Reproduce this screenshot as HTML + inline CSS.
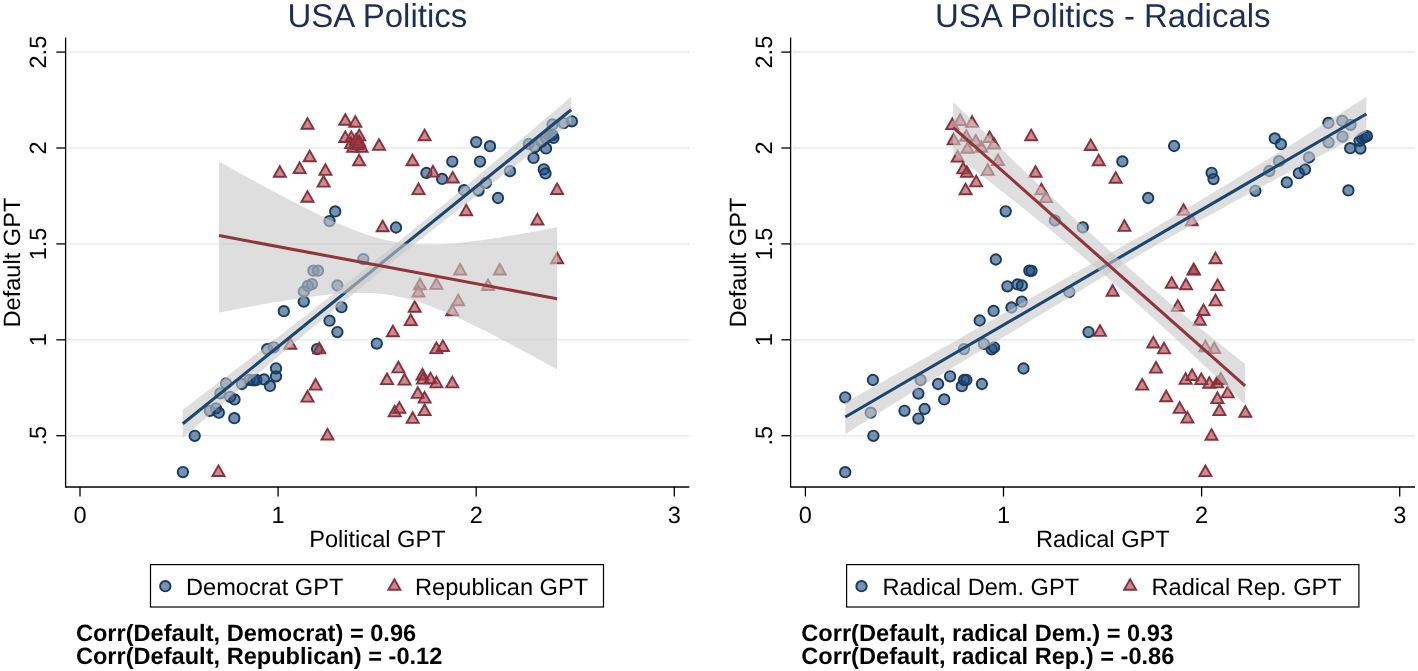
<!DOCTYPE html>
<html><head><meta charset="utf-8"><title>USA Politics</title>
<style>
html,body{margin:0;padding:0;background:#fff;}
body{width:1418px;height:671px;overflow:hidden;}
svg{display:block;position:absolute;left:0;top:0;will-change:transform;font-family:"Liberation Sans",sans-serif;}
text{text-rendering:geometricPrecision;}
</style></head><body>
<svg width="1418" height="671" viewBox="0 0 1418 671">
<rect width="1418" height="671" fill="#fff"/>
<line x1="68.1" y1="435.7" x2="689.3" y2="435.7" stroke="#e5edee" stroke-width="1.5"/>
<line x1="68.1" y1="339.8" x2="689.3" y2="339.8" stroke="#e5edee" stroke-width="1.5"/>
<line x1="68.1" y1="243.9" x2="689.3" y2="243.9" stroke="#e5edee" stroke-width="1.5"/>
<line x1="68.1" y1="148.0" x2="689.3" y2="148.0" stroke="#e5edee" stroke-width="1.5"/>
<line x1="68.1" y1="52.1" x2="689.3" y2="52.1" stroke="#e5edee" stroke-width="1.5"/>
<g fill="#1a4a7a" fill-opacity="0.6" stroke="#173a62" stroke-width="1.9"><circle cx="182.9" cy="472.1" r="5.2"/><circle cx="194.7" cy="435.8" r="5.2"/><circle cx="209.9" cy="410.8" r="5.2"/><circle cx="216.0" cy="408.4" r="5.2"/><circle cx="218.8" cy="412.7" r="5.2"/><circle cx="234.3" cy="418.2" r="5.2"/><circle cx="220.4" cy="393.3" r="5.2"/><circle cx="226.0" cy="383.5" r="5.2"/><circle cx="230.2" cy="397.0" r="5.2"/><circle cx="234.5" cy="399.4" r="5.2"/><circle cx="241.9" cy="384.0" r="5.2"/><circle cx="249.6" cy="379.8" r="5.2"/><circle cx="253.3" cy="380.3" r="5.2"/><circle cx="256.5" cy="380.0" r="5.2"/><circle cx="264.0" cy="379.4" r="5.2"/><circle cx="270.0" cy="385.9" r="5.2"/><circle cx="276.0" cy="376.3" r="5.2"/><circle cx="276.0" cy="368.3" r="5.2"/><circle cx="363.3" cy="259.1" r="5.2"/><circle cx="313.4" cy="270.7" r="5.2"/><circle cx="318.0" cy="270.7" r="5.2"/><circle cx="311.9" cy="284.1" r="5.2"/><circle cx="307.9" cy="285.9" r="5.2"/><circle cx="303.8" cy="291.5" r="5.2"/><circle cx="337.4" cy="285.5" r="5.2"/><circle cx="303.8" cy="301.6" r="5.2"/><circle cx="283.8" cy="311.2" r="5.2"/><circle cx="341.5" cy="307.2" r="5.2"/><circle cx="329.5" cy="320.7" r="5.2"/><circle cx="337.4" cy="332.1" r="5.2"/><circle cx="376.8" cy="343.6" r="5.2"/><circle cx="267.2" cy="349.1" r="5.2"/><circle cx="273.7" cy="347.3" r="5.2"/><circle cx="317.1" cy="349.1" r="5.2"/><circle cx="335.2" cy="211.4" r="5.2"/><circle cx="329.5" cy="221.1" r="5.2"/><circle cx="396.0" cy="227.5" r="5.2"/><circle cx="476.2" cy="142.1" r="5.2"/><circle cx="490.0" cy="146.2" r="5.2"/><circle cx="452.3" cy="161.6" r="5.2"/><circle cx="480.0" cy="161.6" r="5.2"/><circle cx="426.4" cy="173.0" r="5.2"/><circle cx="442.1" cy="178.9" r="5.2"/><circle cx="464.1" cy="190.2" r="5.2"/><circle cx="478.6" cy="190.6" r="5.2"/><circle cx="486.0" cy="182.8" r="5.2"/><circle cx="510.0" cy="171.2" r="5.2"/><circle cx="498.0" cy="198.0" r="5.2"/><circle cx="533.5" cy="157.9" r="5.2"/><circle cx="543.8" cy="169.3" r="5.2"/><circle cx="545.5" cy="173.4" r="5.2"/><circle cx="546.0" cy="148.4" r="5.2"/><circle cx="528.8" cy="144.0" r="5.2"/><circle cx="535.0" cy="147.1" r="5.2"/><circle cx="541.4" cy="141.6" r="5.2"/><circle cx="546.0" cy="137.9" r="5.2"/><circle cx="549.7" cy="136.0" r="5.2"/><circle cx="552.5" cy="135.1" r="5.2"/><circle cx="553.4" cy="137.9" r="5.2"/><circle cx="552.5" cy="124.4" r="5.2"/><circle cx="563.6" cy="123.1" r="5.2"/><circle cx="571.9" cy="121.3" r="5.2"/></g>
<g fill="#a93a46" fill-opacity="0.6" stroke="#88303a" stroke-width="1.9" stroke-linejoin="miter"><path d="M218.5 465.4L224.5 476.0L212.5 476.0Z"/><path d="M327.5 428.9L333.5 439.5L321.5 439.5Z"/><path d="M307.5 391.0L313.5 401.6L301.5 401.6Z"/><path d="M315.6 379.0L321.6 389.6L309.6 389.6Z"/><path d="M387.0 373.5L393.0 384.1L381.0 384.1Z"/><path d="M398.4 361.8L404.4 372.4L392.4 372.4Z"/><path d="M404.5 374.0L410.5 384.6L398.5 384.6Z"/><path d="M394.7 405.8L400.7 416.4L388.7 416.4Z"/><path d="M399.4 402.1L405.4 412.7L393.4 412.7Z"/><path d="M412.7 412.3L418.7 422.9L406.7 422.9Z"/><path d="M417.8 387.3L423.8 397.9L411.8 397.9Z"/><path d="M422.5 368.9L428.5 379.5L416.5 379.5Z"/><path d="M423.0 373.0L429.0 383.6L417.0 383.6Z"/><path d="M430.5 372.6L436.5 383.2L424.5 383.2Z"/><path d="M436.4 376.8L442.4 387.4L430.4 387.4Z"/><path d="M452.3 376.8L458.3 387.4L446.3 387.4Z"/><path d="M424.6 392.0L430.6 402.6L418.6 402.6Z"/><path d="M424.6 404.5L430.6 415.1L418.6 415.1Z"/><path d="M290.3 338.2L296.3 348.8L284.3 348.8Z"/><path d="M319.3 342.8L325.3 353.4L313.3 353.4Z"/><path d="M392.9 325.6L398.9 336.2L386.9 336.2Z"/><path d="M410.8 314.5L416.8 325.1L404.8 325.1Z"/><path d="M414.7 301.2L420.7 311.8L408.7 311.8Z"/><path d="M557.1 252.6L563.1 263.2L551.1 263.2Z"/><path d="M460.1 263.9L466.1 274.5L454.1 274.5Z"/><path d="M499.8 263.9L505.8 274.5L493.8 274.5Z"/><path d="M420.0 278.7L426.0 289.3L414.0 289.3Z"/><path d="M436.4 278.3L442.4 288.9L430.4 288.9Z"/><path d="M418.5 285.9L424.5 296.5L412.5 296.5Z"/><path d="M488.0 279.4L494.0 290.0L482.0 290.0Z"/><path d="M458.2 294.6L464.2 305.2L452.2 305.2Z"/><path d="M452.3 304.6L458.3 315.2L446.3 315.2Z"/><path d="M436.4 342.5L442.4 353.1L430.4 353.1Z"/><path d="M442.9 340.4L448.9 351.0L436.9 351.0Z"/><path d="M307.5 118.1L313.5 128.7L301.5 128.7Z"/><path d="M345.3 114.2L351.3 124.8L339.3 124.8Z"/><path d="M355.3 116.1L361.3 126.7L349.3 126.7Z"/><path d="M309.7 150.6L315.7 161.2L303.7 161.2Z"/><path d="M279.8 166.2L285.8 176.8L273.8 176.8Z"/><path d="M299.6 162.5L305.6 173.1L293.6 173.1Z"/><path d="M325.4 164.3L331.4 174.9L319.4 174.9Z"/><path d="M323.6 176.0L329.6 186.6L317.6 186.6Z"/><path d="M307.5 191.1L313.5 201.7L301.5 201.7Z"/><path d="M379.0 139.3L385.0 149.9L373.0 149.9Z"/><path d="M359.1 154.7L365.1 165.3L353.1 165.3Z"/><path d="M412.5 154.7L418.5 165.3L406.5 165.3Z"/><path d="M418.5 183.5L424.5 194.1L412.5 194.1Z"/><path d="M382.7 220.7L388.7 231.3L376.7 231.3Z"/><path d="M345.3 131.4L351.3 142.0L339.3 142.0Z"/><path d="M351.3 131.4L357.3 142.0L345.3 142.0Z"/><path d="M359.3 129.6L365.3 140.2L353.3 140.2Z"/><path d="M351.1 137.5L357.1 148.1L345.1 148.1Z"/><path d="M353.1 141.1L359.1 151.7L347.1 151.7Z"/><path d="M361.6 141.1L367.6 151.7L355.6 151.7Z"/><path d="M359.3 135.7L365.3 146.3L353.3 146.3Z"/><path d="M357.5 138.4L363.5 149.0L351.5 149.0Z"/><path d="M356.0 134.0L362.0 144.6L350.0 144.6Z"/><path d="M358.5 137.0L364.5 147.6L352.5 147.6Z"/><path d="M424.6 129.7L430.6 140.3L418.6 140.3Z"/><path d="M432.9 166.0L438.9 176.6L426.9 176.6Z"/><path d="M452.7 171.9L458.7 182.5L446.7 182.5Z"/><path d="M466.2 204.6L472.2 215.2L460.2 215.2Z"/><path d="M557.1 183.4L563.1 194.0L551.1 194.0Z"/><path d="M537.4 213.9L543.4 224.5L531.4 224.5Z"/></g>
<path d="M182.8 409.8L192.5 402.4L202.2 395.0L211.9 387.6L221.6 380.2L231.4 372.8L241.1 365.4L250.8 357.9L260.5 350.4L270.2 343.0L279.9 335.5L289.6 328.0L299.3 320.4L309.0 312.9L318.7 305.3L328.5 297.7L338.2 290.0L347.9 282.3L357.6 274.6L367.3 266.9L377.0 259.1L386.7 251.2L396.4 243.4L406.1 235.5L415.8 227.5L425.6 219.5L435.3 211.5L445.0 203.5L454.7 195.4L464.4 187.3L474.1 179.1L483.8 171.0L493.5 162.8L503.2 154.6L512.9 146.3L522.7 138.1L532.4 129.9L542.1 121.6L551.8 113.3L561.5 105.0L571.2 96.7L571.2 122.9L561.5 130.3L551.8 137.7L542.1 145.1L532.4 152.5L522.7 160.0L512.9 167.5L503.2 174.9L493.5 182.4L483.8 189.9L474.1 197.5L464.4 205.0L454.7 212.6L445.0 220.2L435.3 227.9L425.6 235.6L415.8 243.3L406.1 251.0L396.4 258.8L386.7 266.7L377.0 274.5L367.3 282.4L357.6 290.4L347.9 298.4L338.2 306.4L328.5 314.4L318.7 322.5L309.0 330.6L299.3 338.8L289.6 346.9L279.9 355.1L270.2 363.3L260.5 371.6L250.8 379.8L241.1 388.0L231.4 396.3L221.6 404.6L211.9 412.9L202.2 421.2L192.5 429.5L182.8 437.8Z" fill="#c8c8c8" fill-opacity="0.6"/>
<line x1="182.8" y1="423.8" x2="571.2" y2="109.8" stroke="#1a476f" stroke-width="3.1"/>
<path d="M219.1 161.6L227.5 166.3L236.0 171.0L244.4 175.7L252.9 180.3L261.4 184.9L269.8 189.4L278.2 193.9L286.7 198.4L295.1 202.8L303.6 207.1L312.1 211.3L320.5 215.4L328.9 219.4L337.4 223.2L345.9 226.8L354.3 230.2L362.8 233.3L371.2 236.1L379.6 238.6L388.1 240.6L396.5 242.2L405.0 243.4L413.4 244.2L421.9 244.6L430.4 244.6L438.8 244.4L447.2 243.9L455.7 243.2L464.1 242.3L472.6 241.3L481.0 240.2L489.5 239.0L498.0 237.7L506.4 236.3L514.9 234.9L523.3 233.4L531.8 231.9L540.2 230.4L548.6 228.8L557.1 227.2L557.1 369.4L548.6 364.7L540.2 360.1L531.8 355.5L523.3 350.9L514.9 346.4L506.4 341.9L498.0 337.5L489.5 333.1L481.0 328.8L472.6 324.7L464.1 320.6L455.7 316.7L447.2 312.9L438.8 309.4L430.4 306.1L421.9 303.1L413.4 300.4L405.0 298.1L396.5 296.3L388.1 294.8L379.6 293.8L371.2 293.1L362.8 292.9L354.3 292.9L345.9 293.3L337.4 293.8L328.9 294.6L320.5 295.5L312.1 296.6L303.6 297.7L295.1 299.0L286.7 300.3L278.2 301.7L269.8 303.1L261.4 304.6L252.9 306.1L244.4 307.7L236.0 309.3L227.5 310.9L219.1 312.6Z" fill="#c8c8c8" fill-opacity="0.6"/>
<line x1="219.1" y1="235.6" x2="557.1" y2="298.8" stroke="#90353b" stroke-width="3.1"/>
<g stroke="#000" stroke-width="1.3" fill="none">
<path d="M65.6 37.5V487H689.3"/>
<line x1="56.3" y1="435.7" x2="65.6" y2="435.7"/>
<line x1="56.3" y1="339.8" x2="65.6" y2="339.8"/>
<line x1="56.3" y1="243.9" x2="65.6" y2="243.9"/>
<line x1="56.3" y1="148.0" x2="65.6" y2="148.0"/>
<line x1="56.3" y1="52.1" x2="65.6" y2="52.1"/>
<line x1="80.0" y1="487" x2="80.0" y2="496.5"/>
<line x1="278.1" y1="487" x2="278.1" y2="496.5"/>
<line x1="476.2" y1="487" x2="476.2" y2="496.5"/>
<line x1="674.3" y1="487" x2="674.3" y2="496.5"/>
</g>
<g font-size="23.6" fill="#000" text-anchor="middle">
<text transform="translate(46.3 435.7) rotate(-90)">.5</text>
<text transform="translate(46.3 339.8) rotate(-90)">1</text>
<text transform="translate(46.3 243.9) rotate(-90)">1.5</text>
<text transform="translate(46.3 148.0) rotate(-90)">2</text>
<text transform="translate(46.3 52.1) rotate(-90)">2.5</text>
<text x="80.0" y="523.4">0</text>
<text x="278.1" y="523.4">1</text>
<text x="476.2" y="523.4">2</text>
<text x="674.3" y="523.4">3</text>
<text transform="translate(20.1 262.6) rotate(-90)">Default GPT</text>
<text x="377.4" y="546.8">Political GPT</text>
</g>
<text x="377.4" y="27" font-size="33" fill="#1e2d53" text-anchor="middle">USA Politics</text>
<line x1="793.1" y1="435.7" x2="1415" y2="435.7" stroke="#e5edee" stroke-width="1.5"/>
<line x1="793.1" y1="339.8" x2="1415" y2="339.8" stroke="#e5edee" stroke-width="1.5"/>
<line x1="793.1" y1="243.9" x2="1415" y2="243.9" stroke="#e5edee" stroke-width="1.5"/>
<line x1="793.1" y1="148.0" x2="1415" y2="148.0" stroke="#e5edee" stroke-width="1.5"/>
<line x1="793.1" y1="52.1" x2="1415" y2="52.1" stroke="#e5edee" stroke-width="1.5"/>
<g fill="#1a4a7a" fill-opacity="0.6" stroke="#173a62" stroke-width="1.9"><circle cx="845.2" cy="472.2" r="5.2"/><circle cx="845.2" cy="397.3" r="5.2"/><circle cx="872.9" cy="380.0" r="5.2"/><circle cx="870.7" cy="412.7" r="5.2"/><circle cx="873.4" cy="435.8" r="5.2"/><circle cx="904.5" cy="410.8" r="5.2"/><circle cx="918.4" cy="393.6" r="5.2"/><circle cx="920.6" cy="380.0" r="5.2"/><circle cx="924.6" cy="409.0" r="5.2"/><circle cx="918.4" cy="418.6" r="5.2"/><circle cx="938.1" cy="384.0" r="5.2"/><circle cx="944.2" cy="399.4" r="5.2"/><circle cx="950.1" cy="376.3" r="5.2"/><circle cx="961.8" cy="386.2" r="5.2"/><circle cx="964.0" cy="380.0" r="5.2"/><circle cx="966.4" cy="380.0" r="5.2"/><circle cx="981.9" cy="384.0" r="5.2"/><circle cx="1023.5" cy="368.5" r="5.2"/><circle cx="995.8" cy="259.5" r="5.2"/><circle cx="1029.3" cy="270.6" r="5.2"/><circle cx="1031.5" cy="270.8" r="5.2"/><circle cx="1007.4" cy="286.3" r="5.2"/><circle cx="1017.6" cy="284.4" r="5.2"/><circle cx="1021.9" cy="285.5" r="5.2"/><circle cx="1021.7" cy="301.6" r="5.2"/><circle cx="1011.5" cy="307.5" r="5.2"/><circle cx="993.6" cy="310.9" r="5.2"/><circle cx="979.7" cy="320.5" r="5.2"/><circle cx="1069.3" cy="292.0" r="5.2"/><circle cx="1088.5" cy="332.1" r="5.2"/><circle cx="964.0" cy="349.1" r="5.2"/><circle cx="983.8" cy="343.8" r="5.2"/><circle cx="991.7" cy="349.3" r="5.2"/><circle cx="994.1" cy="347.5" r="5.2"/><circle cx="1122.4" cy="161.4" r="5.2"/><circle cx="1148.2" cy="198.0" r="5.2"/><circle cx="1005.7" cy="211.3" r="5.2"/><circle cx="1054.9" cy="220.5" r="5.2"/><circle cx="1082.8" cy="227.3" r="5.2"/><circle cx="1174.1" cy="146.0" r="5.2"/><circle cx="1211.6" cy="172.8" r="5.2"/><circle cx="1213.5" cy="179.1" r="5.2"/><circle cx="1274.8" cy="138.4" r="5.2"/><circle cx="1280.9" cy="144.2" r="5.2"/><circle cx="1255.4" cy="190.8" r="5.2"/><circle cx="1269.3" cy="171.0" r="5.2"/><circle cx="1279.1" cy="161.2" r="5.2"/><circle cx="1286.8" cy="182.4" r="5.2"/><circle cx="1298.9" cy="173.2" r="5.2"/><circle cx="1305.0" cy="169.5" r="5.2"/><circle cx="1309.0" cy="157.5" r="5.2"/><circle cx="1328.4" cy="122.9" r="5.2"/><circle cx="1342.3" cy="120.9" r="5.2"/><circle cx="1350.6" cy="124.8" r="5.2"/><circle cx="1328.6" cy="142.3" r="5.2"/><circle cx="1342.5" cy="136.6" r="5.2"/><circle cx="1350.2" cy="148.2" r="5.2"/><circle cx="1360.4" cy="148.6" r="5.2"/><circle cx="1359.5" cy="140.8" r="5.2"/><circle cx="1362.3" cy="138.4" r="5.2"/><circle cx="1364.7" cy="137.1" r="5.2"/><circle cx="1366.9" cy="136.2" r="5.2"/><circle cx="1348.4" cy="190.4" r="5.2"/></g>
<g fill="#a93a46" fill-opacity="0.6" stroke="#88303a" stroke-width="1.9" stroke-linejoin="miter"><path d="M1156.0 362.0L1162.0 372.6L1150.0 372.6Z"/><path d="M1142.2 379.0L1148.2 389.6L1136.2 389.6Z"/><path d="M1166.2 390.7L1172.2 401.3L1160.2 401.3Z"/><path d="M1179.7 402.3L1185.7 412.9L1173.7 412.9Z"/><path d="M1187.4 411.9L1193.4 422.5L1181.4 422.5Z"/><path d="M1185.6 373.3L1191.6 383.9L1179.6 383.9Z"/><path d="M1192.1 369.4L1198.1 380.0L1186.1 380.0Z"/><path d="M1201.3 373.5L1207.3 384.1L1195.3 384.1Z"/><path d="M1209.3 377.2L1215.3 387.8L1203.3 387.8Z"/><path d="M1217.0 376.8L1223.0 387.4L1211.0 387.4Z"/><path d="M1220.7 373.1L1226.7 383.7L1214.7 383.7Z"/><path d="M1220.9 373.3L1226.9 383.9L1214.9 383.9Z"/><path d="M1227.7 386.8L1233.7 397.4L1221.7 397.4Z"/><path d="M1217.4 392.5L1223.4 403.1L1211.4 403.1Z"/><path d="M1219.4 404.5L1225.4 415.1L1213.4 415.1Z"/><path d="M1245.3 406.2L1251.3 416.8L1239.3 416.8Z"/><path d="M1211.5 429.1L1217.5 439.7L1205.5 439.7Z"/><path d="M1205.4 465.5L1211.4 476.1L1199.4 476.1Z"/><path d="M1112.6 285.2L1118.6 295.8L1106.6 295.8Z"/><path d="M1100.0 325.3L1106.0 335.9L1094.0 335.9Z"/><path d="M1153.3 336.9L1159.3 347.5L1147.3 347.5Z"/><path d="M1164.0 342.8L1170.0 353.4L1158.0 353.4Z"/><path d="M1215.5 252.6L1221.5 263.2L1209.5 263.2Z"/><path d="M1193.9 263.9L1199.9 274.5L1187.9 274.5Z"/><path d="M1193.6 263.7L1199.6 274.3L1187.6 274.3Z"/><path d="M1171.7 277.2L1177.7 287.8L1165.7 287.8Z"/><path d="M1186.0 278.7L1192.0 289.3L1180.0 289.3Z"/><path d="M1217.6 279.4L1223.6 290.0L1211.6 290.0Z"/><path d="M1215.5 294.8L1221.5 305.4L1209.5 305.4Z"/><path d="M1177.8 300.3L1183.8 310.9L1171.8 310.9Z"/><path d="M1203.5 304.4L1209.5 315.0L1197.5 315.0Z"/><path d="M1199.8 314.2L1205.8 324.8L1193.8 324.8Z"/><path d="M1205.4 340.6L1211.4 351.2L1199.4 351.2Z"/><path d="M1214.2 342.5L1220.2 353.1L1208.2 353.1Z"/><path d="M952.3 118.5L958.3 129.1L946.3 129.1Z"/><path d="M960.1 114.4L966.1 125.0L954.1 125.0Z"/><path d="M972.1 116.3L978.1 126.9L966.1 126.9Z"/><path d="M953.6 133.8L959.6 144.4L947.6 144.4Z"/><path d="M966.2 130.1L972.2 140.7L960.2 140.7Z"/><path d="M975.8 134.9L981.8 145.5L969.8 145.5Z"/><path d="M989.6 131.4L995.6 142.0L983.6 142.0Z"/><path d="M993.9 137.9L999.9 148.5L987.9 148.5Z"/><path d="M967.5 142.1L973.5 152.7L961.5 152.7Z"/><path d="M981.3 141.2L987.3 151.8L975.3 151.8Z"/><path d="M957.7 151.0L963.7 161.6L951.7 161.6Z"/><path d="M998.0 154.5L1004.0 165.1L992.0 165.1Z"/><path d="M963.2 162.8L969.2 173.4L957.2 173.4Z"/><path d="M966.9 166.2L972.9 176.8L960.9 176.8Z"/><path d="M987.8 164.3L993.8 174.9L981.8 174.9Z"/><path d="M976.2 175.8L982.2 186.4L970.2 186.4Z"/><path d="M965.6 183.7L971.6 194.3L959.6 194.3Z"/><path d="M1031.2 129.6L1037.2 140.2L1025.2 140.2Z"/><path d="M1035.5 166.2L1041.5 176.8L1029.5 176.8Z"/><path d="M1041.4 183.7L1047.4 194.3L1035.4 194.3Z"/><path d="M1046.0 191.5L1052.0 202.1L1040.0 202.1Z"/><path d="M1090.8 139.4L1096.8 150.0L1084.8 150.0Z"/><path d="M1098.7 154.7L1104.7 165.3L1092.7 165.3Z"/><path d="M1115.7 172.1L1121.7 182.7L1109.7 182.7Z"/><path d="M1124.4 220.3L1130.4 230.9L1118.4 230.9Z"/><path d="M1183.6 204.3L1189.6 214.9L1177.6 214.9Z"/><path d="M1191.8 214.7L1197.8 225.3L1185.8 225.3Z"/></g>
<path d="M845.3 402.5L851.8 398.9L858.3 395.2L864.8 391.6L871.3 388.0L877.9 384.3L884.4 380.7L890.9 377.1L897.4 373.4L903.9 369.8L910.4 366.2L916.9 362.5L923.4 358.9L930.0 355.2L936.5 351.5L943.0 347.8L949.5 344.2L956.0 340.5L962.5 336.8L969.0 333.1L975.5 329.4L982.1 325.7L988.6 322.0L995.1 318.3L1001.6 314.6L1008.1 310.9L1014.6 307.3L1021.1 303.6L1027.6 299.9L1034.2 296.2L1040.7 292.5L1047.2 288.9L1053.7 285.2L1060.2 281.5L1066.7 277.8L1073.2 274.2L1079.8 270.5L1086.3 266.8L1092.8 263.2L1099.3 259.5L1105.8 255.8L1112.3 252.1L1118.8 248.5L1125.3 244.8L1131.8 241.1L1138.4 237.3L1144.9 233.6L1151.4 229.8L1157.9 226.0L1164.4 222.1L1170.9 218.2L1177.4 214.3L1184.0 210.4L1190.5 206.5L1197.0 202.5L1203.5 198.6L1210.0 194.6L1216.5 190.7L1223.0 186.7L1229.5 182.7L1236.0 178.7L1242.6 174.8L1249.1 170.8L1255.6 166.8L1262.1 162.8L1268.6 158.7L1275.1 154.7L1281.6 150.6L1288.2 146.6L1294.7 142.5L1301.2 138.3L1307.7 134.2L1314.2 130.1L1320.7 125.9L1327.2 121.8L1333.7 117.6L1340.2 113.4L1346.8 109.2L1353.3 105.1L1359.8 100.9L1366.3 96.7L1366.3 131.8L1359.8 135.2L1353.3 138.5L1346.8 141.9L1340.2 145.3L1333.7 148.7L1327.2 152.0L1320.7 155.4L1314.2 158.8L1307.7 162.2L1301.2 165.7L1294.7 169.1L1288.2 172.6L1281.6 176.0L1275.1 179.5L1268.6 183.0L1262.1 186.6L1255.6 190.1L1249.1 193.6L1242.6 197.2L1236.0 200.8L1229.5 204.3L1223.0 207.9L1216.5 211.5L1210.0 215.1L1203.5 218.6L1197.0 222.2L1190.5 225.8L1184.0 229.4L1177.4 233.1L1170.9 236.7L1164.4 240.4L1157.9 244.1L1151.4 247.9L1144.9 251.7L1138.4 255.6L1131.8 259.4L1125.3 263.3L1118.8 267.3L1112.3 271.2L1105.8 275.2L1099.3 279.1L1092.8 283.1L1086.3 287.0L1079.8 291.0L1073.2 294.9L1066.7 298.9L1060.2 302.8L1053.7 306.8L1047.2 310.7L1040.7 314.7L1034.2 318.6L1027.6 322.6L1021.1 326.5L1014.6 330.4L1008.1 334.3L1001.6 338.2L995.1 342.1L988.6 346.0L982.1 349.9L975.5 353.8L969.0 357.8L962.5 361.7L956.0 365.6L949.5 369.5L943.0 373.4L936.5 377.4L930.0 381.3L923.4 385.3L916.9 389.3L910.4 393.3L903.9 397.4L897.4 401.4L890.9 405.5L884.4 409.5L877.9 413.6L871.3 417.7L864.8 421.8L858.3 425.8L851.8 429.9L845.3 434.0Z" fill="#c8c8c8" fill-opacity="0.6"/>
<line x1="845.3" y1="417.0" x2="1366.3" y2="114.0" stroke="#1a476f" stroke-width="3.1"/>
<path d="M953.2 101.7L960.5 108.9L967.8 116.0L975.1 123.2L982.4 130.3L989.7 137.4L997.0 144.5L1004.3 151.6L1011.6 158.7L1018.9 165.7L1026.2 172.8L1033.5 179.8L1040.8 186.8L1048.1 193.7L1055.4 200.6L1062.7 207.5L1070.0 214.4L1077.3 221.2L1084.6 227.9L1091.9 234.6L1099.2 241.3L1106.4 247.9L1113.7 254.5L1121.0 261.0L1128.3 267.4L1135.6 273.8L1142.9 280.1L1150.2 286.4L1157.5 292.6L1164.8 298.8L1172.1 304.9L1179.4 311.0L1186.7 317.0L1194.0 323.0L1201.3 329.0L1208.6 334.9L1215.9 340.8L1223.2 346.6L1230.5 352.5L1237.8 358.3L1245.1 364.1L1245.1 404.7L1237.8 397.7L1230.5 390.6L1223.2 383.6L1215.9 376.6L1208.6 369.7L1201.3 362.7L1194.0 355.9L1186.7 349.0L1179.4 342.2L1172.1 335.4L1164.8 328.7L1157.5 322.0L1150.2 315.4L1142.9 308.8L1135.6 302.3L1128.3 295.8L1121.0 289.4L1113.7 283.0L1106.4 276.7L1099.2 270.5L1091.9 264.3L1084.6 258.2L1077.3 252.1L1070.0 246.0L1062.7 240.0L1055.4 234.1L1048.1 228.1L1040.8 222.2L1033.5 216.4L1026.2 210.5L1018.9 204.7L1011.6 198.9L1004.3 193.1L997.0 187.4L989.7 181.6L982.4 175.9L975.1 170.2L967.8 164.5L960.5 158.8L953.2 153.1Z" fill="#c8c8c8" fill-opacity="0.6"/>
<line x1="953.2" y1="127.4" x2="1245.1" y2="385.9" stroke="#90353b" stroke-width="3.1"/>
<g stroke="#000" stroke-width="1.3" fill="none">
<path d="M790.6 37.5V487H1415"/>
<line x1="781.3000000000001" y1="435.7" x2="790.6" y2="435.7"/>
<line x1="781.3000000000001" y1="339.8" x2="790.6" y2="339.8"/>
<line x1="781.3000000000001" y1="243.9" x2="790.6" y2="243.9"/>
<line x1="781.3000000000001" y1="148.0" x2="790.6" y2="148.0"/>
<line x1="781.3000000000001" y1="52.1" x2="790.6" y2="52.1"/>
<line x1="805.4" y1="487" x2="805.4" y2="496.5"/>
<line x1="1003.5" y1="487" x2="1003.5" y2="496.5"/>
<line x1="1201.6" y1="487" x2="1201.6" y2="496.5"/>
<line x1="1399.7" y1="487" x2="1399.7" y2="496.5"/>
</g>
<g font-size="23.6" fill="#000" text-anchor="middle">
<text transform="translate(772.0 435.7) rotate(-90)">.5</text>
<text transform="translate(772.0 339.8) rotate(-90)">1</text>
<text transform="translate(772.0 243.9) rotate(-90)">1.5</text>
<text transform="translate(772.0 148.0) rotate(-90)">2</text>
<text transform="translate(772.0 52.1) rotate(-90)">2.5</text>
<text x="805.4" y="523.4">0</text>
<text x="1003.5" y="523.4">1</text>
<text x="1201.6" y="523.4">2</text>
<text x="1399.7" y="523.4">3</text>
<text transform="translate(745.8 262.6) rotate(-90)">Default GPT</text>
<text x="1102.8" y="546.8">Radical GPT</text>
</g>
<text x="1102.8" y="27" font-size="33" fill="#1e2d53" text-anchor="middle">USA Politics - Radicals</text>
<rect x="150.5" y="564.6" width="453.0" height="42.4" fill="#fff" stroke="#000" stroke-width="1.2"/>
<g fill="#1a4a7a" fill-opacity="0.6" stroke="#173a62" stroke-width="1.9"><circle cx="165.3" cy="586.2" r="5.2"/></g>
<g fill="#a93a46" fill-opacity="0.6" stroke="#88303a" stroke-width="1.9"><path d="M394.4 579.2L400.4 589.8L388.4 589.8Z"/></g>
<text x="186.0" y="595.4" font-size="23.6">Democrat GPT</text>
<text x="415.0" y="595.4" font-size="23.6">Republican GPT</text>
<rect x="846.6" y="564.6" width="512.3000000000001" height="42.4" fill="#fff" stroke="#000" stroke-width="1.2"/>
<g fill="#1a4a7a" fill-opacity="0.6" stroke="#173a62" stroke-width="1.9"><circle cx="861.5" cy="586.2" r="5.2"/></g>
<g fill="#a93a46" fill-opacity="0.6" stroke="#88303a" stroke-width="1.9"><path d="M1130.1 579.2L1136.1 589.8L1124.1 589.8Z"/></g>
<text x="882.4" y="595.4" font-size="23.6">Radical Dem. GPT</text>
<text x="1151.5" y="595.4" font-size="23.6">Radical Rep. GPT</text>
<text x="75.9" y="640.7" font-size="23.6" font-weight="bold">Corr(Default, Democrat) = 0.96</text><text x="75.9" y="664.3" font-size="23.6" font-weight="bold">Corr(Default, Republican) = -0.12</text>
<text x="801.3" y="640.7" font-size="23.6" font-weight="bold">Corr(Default, radical Dem.) = 0.93</text><text x="801.3" y="664.3" font-size="23.6" font-weight="bold">Corr(Default, radical Rep.) = -0.86</text>
</svg>
</body></html>
